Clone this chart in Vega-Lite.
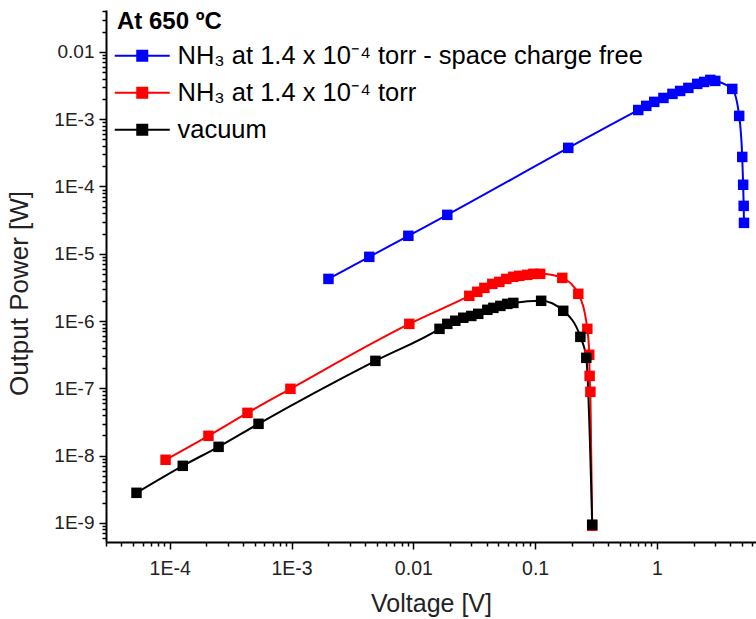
{
  "$schema": "https://vega.github.io/schema/vega-lite/v6.json",
  "autosize": {"type": "none"},
  "width": 650,
  "height": 532,
  "padding": {"left": 106, "top": 10, "right": 0, "bottom": 77},
  "background": "white",
  "config": {
    "font": "Liberation Sans",
    "view": {"stroke": null},
    "axis": {"grid": false, "domainColor": "black", "tickColor": "black", "labelColor": "#222", "titleColor": "#222"}
  },
  "data": {
    "values": [
      {"series": "NH₃ at 1.4 x 10⁻⁴ torr - space charge free", "voltage": 0.00201, "power": 4.23e-6},
      {"series": "NH₃ at 1.4 x 10⁻⁴ torr - space charge free", "voltage": 0.00435, "power": 9.0e-6},
      {"series": "NH₃ at 1.4 x 10⁻⁴ torr - space charge free", "voltage": 0.0091, "power": 1.85e-5},
      {"series": "NH₃ at 1.4 x 10⁻⁴ torr - space charge free", "voltage": 0.019, "power": 3.79e-5},
      {"series": "NH₃ at 1.4 x 10⁻⁴ torr - space charge free", "voltage": 0.187, "power": 3.75e-4},
      {"series": "NH₃ at 1.4 x 10⁻⁴ torr - space charge free", "voltage": 0.702, "power": 1.37e-3},
      {"series": "NH₃ at 1.4 x 10⁻⁴ torr - space charge free", "voltage": 0.817, "power": 1.58e-3},
      {"series": "NH₃ at 1.4 x 10⁻⁴ torr - space charge free", "voltage": 0.95, "power": 1.81e-3},
      {"series": "NH₃ at 1.4 x 10⁻⁴ torr - space charge free", "voltage": 1.13, "power": 2.07e-3},
      {"series": "NH₃ at 1.4 x 10⁻⁴ torr - space charge free", "voltage": 1.34, "power": 2.38e-3},
      {"series": "NH₃ at 1.4 x 10⁻⁴ torr - space charge free", "voltage": 1.55, "power": 2.63e-3},
      {"series": "NH₃ at 1.4 x 10⁻⁴ torr - space charge free", "voltage": 1.81, "power": 2.92e-3},
      {"series": "NH₃ at 1.4 x 10⁻⁴ torr - space charge free", "voltage": 2.14, "power": 3.35e-3},
      {"series": "NH₃ at 1.4 x 10⁻⁴ torr - space charge free", "voltage": 2.44, "power": 3.58e-3},
      {"series": "NH₃ at 1.4 x 10⁻⁴ torr - space charge free", "voltage": 2.74, "power": 3.84e-3},
      {"series": "NH₃ at 1.4 x 10⁻⁴ torr - space charge free", "voltage": 3.01, "power": 3.71e-3},
      {"series": "NH₃ at 1.4 x 10⁻⁴ torr - space charge free", "voltage": 4.15, "power": 2.82e-3},
      {"series": "NH₃ at 1.4 x 10⁻⁴ torr - space charge free", "voltage": 4.73, "power": 1.12e-3},
      {"series": "NH₃ at 1.4 x 10⁻⁴ torr - space charge free", "voltage": 5.01, "power": 2.75e-4},
      {"series": "NH₃ at 1.4 x 10⁻⁴ torr - space charge free", "voltage": 5.1, "power": 1.06e-4},
      {"series": "NH₃ at 1.4 x 10⁻⁴ torr - space charge free", "voltage": 5.15, "power": 5.15e-5},
      {"series": "NH₃ at 1.4 x 10⁻⁴ torr - space charge free", "voltage": 5.18, "power": 2.88e-5},

      {"series": "NH₃ at 1.4 x 10⁻⁴ torr", "voltage": 0.0000925, "power": 8.67e-9},
      {"series": "NH₃ at 1.4 x 10⁻⁴ torr", "voltage": 0.000208, "power": 1.97e-8},
      {"series": "NH₃ at 1.4 x 10⁻⁴ torr", "voltage": 0.000435, "power": 4.32e-8},
      {"series": "NH₃ at 1.4 x 10⁻⁴ torr", "voltage": 0.00098, "power": 9.84e-8},
      {"series": "NH₃ at 1.4 x 10⁻⁴ torr", "voltage": 0.00927, "power": 9.08e-7},
      {"series": "NH₃ at 1.4 x 10⁻⁴ torr", "voltage": 0.0288, "power": 2.37e-6},
      {"series": "NH₃ at 1.4 x 10⁻⁴ torr", "voltage": 0.0335, "power": 2.72e-6},
      {"series": "NH₃ at 1.4 x 10⁻⁴ torr", "voltage": 0.0383, "power": 3.11e-6},
      {"series": "NH₃ at 1.4 x 10⁻⁴ torr", "voltage": 0.0445, "power": 3.57e-6},
      {"series": "NH₃ at 1.4 x 10⁻⁴ torr", "voltage": 0.0508, "power": 3.82e-6},
      {"series": "NH₃ at 1.4 x 10⁻⁴ torr", "voltage": 0.058, "power": 4.23e-6},
      {"series": "NH₃ at 1.4 x 10⁻⁴ torr", "voltage": 0.0662, "power": 4.54e-6},
      {"series": "NH₃ at 1.4 x 10⁻⁴ torr", "voltage": 0.0741, "power": 4.7e-6},
      {"series": "NH₃ at 1.4 x 10⁻⁴ torr", "voltage": 0.0861, "power": 4.86e-6},
      {"series": "NH₃ at 1.4 x 10⁻⁴ torr", "voltage": 0.0966, "power": 5.03e-6},
      {"series": "NH₃ at 1.4 x 10⁻⁴ torr", "voltage": 0.11, "power": 5.03e-6},
      {"series": "NH₃ at 1.4 x 10⁻⁴ torr", "voltage": 0.167, "power": 4.38e-6},
      {"series": "NH₃ at 1.4 x 10⁻⁴ torr", "voltage": 0.226, "power": 2.54e-6},
      {"series": "NH₃ at 1.4 x 10⁻⁴ torr", "voltage": 0.268, "power": 7.66e-7},
      {"series": "NH₃ at 1.4 x 10⁻⁴ torr", "voltage": 0.278, "power": 3.15e-7},
      {"series": "NH₃ at 1.4 x 10⁻⁴ torr", "voltage": 0.28, "power": 1.53e-7},
      {"series": "NH₃ at 1.4 x 10⁻⁴ torr", "voltage": 0.284, "power": 8.87e-8},
      {"series": "NH₃ at 1.4 x 10⁻⁴ torr", "voltage": 0.294, "power": 9.06e-10},

      {"series": "vacuum", "voltage": 0.0000534, "power": 2.8e-9},
      {"series": "vacuum", "voltage": 0.000128, "power": 7.05e-9},
      {"series": "vacuum", "voltage": 0.000252, "power": 1.35e-8},
      {"series": "vacuum", "voltage": 0.000536, "power": 2.97e-8},
      {"series": "vacuum", "voltage": 0.00488, "power": 2.56e-7},
      {"series": "vacuum", "voltage": 0.0164, "power": 7.66e-7},
      {"series": "vacuum", "voltage": 0.019, "power": 9.08e-7},
      {"series": "vacuum", "voltage": 0.0221, "power": 1.01e-6},
      {"series": "vacuum", "voltage": 0.0257, "power": 1.12e-6},
      {"series": "vacuum", "voltage": 0.0299, "power": 1.19e-6},
      {"series": "vacuum", "voltage": 0.0341, "power": 1.28e-6},
      {"series": "vacuum", "voltage": 0.0405, "power": 1.47e-6},
      {"series": "vacuum", "voltage": 0.0454, "power": 1.57e-6},
      {"series": "vacuum", "voltage": 0.0518, "power": 1.68e-6},
      {"series": "vacuum", "voltage": 0.0591, "power": 1.8e-6},
      {"series": "vacuum", "voltage": 0.0662, "power": 1.86e-6},
      {"series": "vacuum", "voltage": 0.112, "power": 2.0e-6},
      {"series": "vacuum", "voltage": 0.17, "power": 1.42e-6},
      {"series": "vacuum", "voltage": 0.235, "power": 5.82e-7},
      {"series": "vacuum", "voltage": 0.263, "power": 2.84e-7},
      {"series": "vacuum", "voltage": 0.294, "power": 9.4e-10}
    ]
  },
  "resolve": {"axis": {"x": "independent", "y": "independent"}},
  "layer": [
    {
      "mark": {"type": "line", "interpolate": "monotone", "strokeWidth": 2, "clip": true},
      "encoding": {
        "x": {
          "field": "voltage", "type": "quantitative",
          "scale": {"type": "log", "domain": [0.00003, 6.5], "nice": false},
          "axis": {
            "orient": "bottom", "values": [0.0001, 0.001, 0.01, 0.1, 1],
            "labelExpr": "datum.value < 0.005 ? '1E' + round(log(datum.value) / LN10) : toString(datum.value)",
            "title": "Voltage [V]", "titleFontSize": 25, "titleFontWeight": "normal", "titlePadding": 14,
            "labelFontSize": 19.5, "labelPadding": 10, "tickSize": 7, "tickWidth": 1.5, "domainWidth": 2
          }
        },
        "y": {
          "field": "power", "type": "quantitative",
          "scale": {"type": "log", "domain": [5.2e-10, 0.042], "nice": false},
          "axis": {
            "orient": "left", "values": [1e-9, 1e-8, 1e-7, 1e-6, 1e-5, 1e-4, 1e-3, 0.01],
            "labelExpr": "datum.value < 0.005 ? '1E' + round(log(datum.value) / LN10) : toString(datum.value)",
            "title": "Output Power [W]", "titleFontSize": 26, "titleFontWeight": "normal",
            "titleX": -87, "titleY": 283, "titleAngle": 270, "titleAlign": "center", "titleBaseline": "middle",
            "labelFontSize": 19, "labelPadding": 5, "tickSize": 7, "tickWidth": 1.5, "domainWidth": 2
          }
        },
        "color": {
          "field": "series", "type": "nominal",
          "scale": {
            "domain": ["NH₃ at 1.4 x 10⁻⁴ torr - space charge free", "NH₃ at 1.4 x 10⁻⁴ torr", "vacuum"],
            "range": ["#0000ff", "#ff0000", "#000000"]
          },
          "legend": {
            "orient": "none", "legendX": 11, "legendY": 0, "padding": 0,
            "title": "At 650 ºC", "titleFontSize": 24, "titleFontWeight": "bold", "titleColor": "black", "titlePadding": 9,
            "labelFontSize": 25.5, "labelColor": "black", "labelOffset": 35, "labelLimit": 700,
            "rowPadding": 10,
            "symbolType": "M-1.5,0H4M0.75,-0.5H1.75V0.5H0.75Z",
            "symbolSize": 400, "symbolStrokeWidth": 2,
            "encode": {
              "symbols": {"update": {
                "fill": {"scale": "color", "field": "value"},
                "stroke": {"scale": "color", "field": "value"},
                "strokeWidth": {"value": 2},
                "opacity": {"value": 1}
              }}
            }
          }
        }
      }
    },
    {
      "mark": {"type": "point", "shape": "square", "filled": true, "size": 110, "opacity": 1, "clip": true},
      "encoding": {
        "x": {
          "field": "voltage", "type": "quantitative",
          "axis": {
            "orient": "bottom",
            "values": [0.00003, 0.00004, 0.00005, 0.00006, 0.00007, 0.00008, 0.00009,
                       0.0002, 0.0003, 0.0004, 0.0005, 0.0006, 0.0007, 0.0008, 0.0009,
                       0.002, 0.003, 0.004, 0.005, 0.006, 0.007, 0.008, 0.009,
                       0.02, 0.03, 0.04, 0.05, 0.06, 0.07, 0.08, 0.09,
                       0.2, 0.3, 0.4, 0.5, 0.6, 0.7, 0.8, 0.9,
                       2, 3, 4, 5, 6],
            "labels": false, "title": null, "domain": false, "tickSize": 4, "tickWidth": 1.5
          }
        },
        "y": {
          "field": "power", "type": "quantitative",
          "axis": {
            "orient": "left",
            "values": [6e-10, 7e-10, 8e-10, 9e-10,
                       2e-9, 3e-9, 4e-9, 5e-9, 6e-9, 7e-9, 8e-9, 9e-9,
                       2e-8, 3e-8, 4e-8, 5e-8, 6e-8, 7e-8, 8e-8, 9e-8,
                       2e-7, 3e-7, 4e-7, 5e-7, 6e-7, 7e-7, 8e-7, 9e-7,
                       2e-6, 3e-6, 4e-6, 5e-6, 6e-6, 7e-6, 8e-6, 9e-6,
                       2e-5, 3e-5, 4e-5, 5e-5, 6e-5, 7e-5, 8e-5, 9e-5,
                       2e-4, 3e-4, 4e-4, 5e-4, 6e-4, 7e-4, 8e-4, 9e-4,
                       2e-3, 3e-3, 4e-3, 5e-3, 6e-3, 7e-3, 8e-3, 9e-3,
                       0.02, 0.03, 0.04],
            "labels": false, "title": null, "domain": false, "tickSize": 4, "tickWidth": 1.5
          }
        },
        "color": {"field": "series", "type": "nominal", "legend": null}
      }
    }
  ]
}
